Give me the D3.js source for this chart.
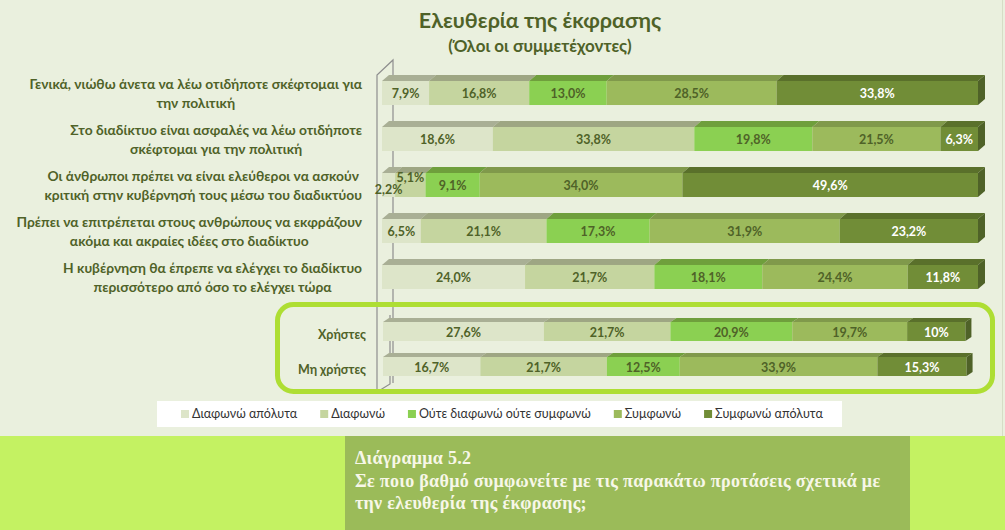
<!DOCTYPE html>
<meta charset="utf-8">
<style>
  body { margin: 0; background: #eaf0de; }
  svg { display: block; }
</style>
<svg width="1005" height="530"></svg>
<script src="https://cdn.jsdelivr.net/npm/d3@7"></script>
<script>

// statements (each one split on two lines like the original)
var statements = [
  ["Γενικά, νιώθω άνετα να λέω οτιδήποτε σκέφτομαι για", "την πολιτική"],
  ["Στο διαδίκτυο είναι ασφαλές να λέω οτιδήποτε", "σκέφτομαι για την πολιτική"],
  ["Οι άνθρωποι πρέπει να είναι ελεύθεροι να ασκούν", "κριτική στην κυβέρνησή τους μέσω του διαδικτύου"],
  ["Πρέπει να επιτρέπεται στους ανθρώπους να εκφράζουν", "ακόμα και ακραίες ιδέες  στο διαδίκτυο"],
  ["Η κυβέρνηση θα έπρεπε να ελέγχει το διαδίκτυο", "περισσότερο από όσο το ελέγχει τώρα"]
];
var levels = ["Διαφωνώ απόλυτα", "Διαφωνώ", "Ούτε διαφωνώ ούτε συμφωνώ", "Συμφωνώ", "Συμφωνώ απόλυτα"];

var disagreeFully = [7.9, 18.6, 2.2, 6.5, 24.0];
var disagree      = [16.8, 33.8, 5.1, 21.1, 21.7];
var neutral       = [13.0, 19.8, 9.1, 17.3, 18.1];
var agree         = [28.5, 21.5, 34.0, 31.9, 24.4];
var agreeFully    = [33.8, 6.3, 49.6, 23.2, 11.8];

var groups = ["Χρήστες", "Μη χρήστες"];
var groupDisagreeFully = [27.6, 16.7];
var groupDisagree      = [21.7, 21.7];
var groupNeutral       = [20.9, 12.5];
var groupAgree         = [19.7, 33.9];
var groupAgreeFully    = [10, 15.3];

var front = ["#dde5c9", "#c5d59f", "#8bd052", "#9cba5c", "#718d37"];
var top_ = ["#a9af95", "#9ea683", "#6f9f3c", "#80994b", "#5a702b"];
var sideColor = "#4f6228";
var textDark = "#4f6228";

var svg = d3.select("svg");
var locale = d3.formatLocale({decimal: ",", thousands: ".", grouping: [3], currency: ["", "€"]});

// background bands
svg.append("rect").attr("x", 0).attr("y", 0).attr("width", 1002).attr("height", 436).attr("fill", "#eaf0de");
svg.append("line").attr("x1", 1002.5).attr("x2", 1002.5).attr("y1", 0).attr("y2", 436).attr("stroke", "#d6ddc6");
svg.append("rect").attr("x", 0).attr("y", 436).attr("width", 1005).attr("height", 94).attr("fill", "#c4f262");
svg.append("rect").attr("x", 345).attr("y", 436).attr("width", 565).attr("height", 94).attr("fill", "#9bbb59");

// titles
svg.append("text").attr("x", 540).attr("y", 28).attr("text-anchor", "middle")
  .style("font", "bold 21.5px Lato").attr("fill", textDark).text("Ελευθερία της έκφρασης");
svg.append("text").attr("x", 540).attr("y", 52).attr("text-anchor", "middle")
  .style("font", "bold 17px Lato").attr("fill", textDark).text("(Όλοι οι συμμετέχοντες)");

// walls
var wall = svg.append("g").attr("stroke", "#8e8e8e").attr("stroke-width", 1.2).attr("fill", "none");
wall.append("path").attr("d", "M377,392 L377,75 L393,60 L393,383");
wall.append("path").attr("d", "M390,315 L390,384 L377,392");

function stack(cols) {
  return cols[0].map(function(_, i) {
    var x0 = 0;
    return cols.map(function(c, k) {
      var s = {level: k, value: c[i], x0: x0, x1: x0 + c[i], row: i};
      x0 += c[i];
      return s;
    });
  });
}

function drawBars(rows, x, y, dx, dy, fmt) {
  var g = svg.append("g");
  var bar = g.selectAll("g.bar").data(rows).join("g").attr("class", "bar");
  bar.each(function(segs, i) {
    var b = d3.select(this), yy = y(i), h = y.bandwidth();
    // top faces
    b.selectAll("path.top").data(segs).join("path").attr("class", "top")
      .attr("d", function(d) {
        var a = x(d.x0), c = x(d.x1);
        return "M" + a + "," + yy + "L" + (a + dx) + "," + (yy - dy) + "L" + (c + dx) + "," + (yy - dy) + "L" + c + "," + yy + "Z";
      })
      .attr("fill", function(d) { return top_[d.level]; });
    // fronts
    b.selectAll("rect.front").data(segs).join("rect").attr("class", "front")
      .attr("x", function(d) { return x(d.x0); })
      .attr("width", function(d) { return x(d.x1) - x(d.x0); })
      .attr("y", yy).attr("height", h)
      .attr("fill", function(d) { return front[d.level]; });
    // right side
    var last = segs[segs.length - 1], e = x(last.x1);
    b.append("path")
      .attr("d", "M" + e + "," + yy + "L" + (e + dx) + "," + (yy - dy) + "L" + (e + dx) + "," + (yy + h - dy) + "L" + e + "," + (yy + h) + "Z")
      .attr("fill", sideColor);
    // value labels
    b.selectAll("text").data(segs).join("text")
      .attr("x", function(d) { return (x(d.x0) + x(d.x1)) / 2; })
      .attr("y", function(d, k) {
        var off = 1;
        if (d.value < 3) off = 5;
        else if (k > 0 && segs[k - 1].value < 3) off = -7;
        return yy + h / 2 + off;
      })
      .attr("dy", "0.35em").attr("text-anchor", "middle")
      .style("font", "bold 12.5px Lato")
      .attr("fill", function(d) { return d.level === 4 ? "#ffffff" : textDark; })
      .text(function(d) { return fmt(d.value) + "%"; });
  });
}

// main chart
var x = d3.scaleLinear().domain([0, 100]).range([382, 978]);
var y = d3.scaleBand().domain(d3.range(statements.length)).range([81, 289]).paddingInner(0.478).paddingOuter(0);
drawBars(stack([disagreeFully, disagree, neutral, agree, agreeFully]), x, y, 7, 6, locale.format(".1f"));

// statement labels: centred lines, block right-aligned
statements.forEach(function(lines, i) {
  var t = svg.append("text").style("font", "bold 13.8px Lato").attr("fill", textDark).attr("text-anchor", "middle");
  var spans = t.selectAll("tspan").data(lines).join("tspan").text(function(d) { return d; });
  var w = d3.max(spans.nodes(), function(n) { return n.getComputedTextLength(); });
  var cx = 362 - w / 2, cy = y(i) + y.bandwidth() / 2;
  spans.attr("x", cx).attr("y", function(d, k) { return cy + (k === 0 ? -9 : 10); }).attr("dy", "0.35em");
});

// users box
svg.append("rect").attr("x", 277.5).attr("y", 304.5).attr("width", 715).attr("height", 87).attr("rx", 16)
  .attr("fill", "none").attr("stroke", "#aede33").attr("stroke-width", 5);

var xg = d3.scaleLinear().domain([0, 100]).range([383, 966]);
var yg = d3.scaleBand().domain(d3.range(groups.length)).range([322, 376]).paddingInner(0.457).paddingOuter(0);
drawBars(stack([groupDisagreeFully, groupDisagree, groupNeutral, groupAgree, groupAgreeFully]), xg, yg, 6, 4, locale.format(".1~f"));

svg.selectAll("text.group").data(groups).join("text").attr("class", "group")
  .attr("x", 366).attr("y", function(d, i) { return yg(i) + yg.bandwidth() / 2 + 3; })
  .attr("dy", "0.35em").attr("text-anchor", "end")
  .style("font", "bold 12.5px Lato").attr("fill", textDark).text(function(d) { return d; });

// legend
svg.append("rect").attr("x", 157).attr("y", 401).attr("width", 685).attr("height", 26).attr("fill", "#ffffff");
var lx = 181;
levels.forEach(function(name, k) {
  svg.append("rect").attr("x", lx).attr("y", 410).attr("width", 8).attr("height", 8).attr("fill", front[k]);
  var t = svg.append("text").attr("x", lx + 11).attr("y", 414).attr("dy", "0.35em")
    .style("font", "12.5px Lato").attr("fill", "#333333").text(name);
  lx += 11 + t.node().getComputedTextLength() + 23;
});

// caption
var caption = ["Διάγραμμα 5.2", "Σε ποιο βαθμό συμφωνείτε με τις παρακάτω προτάσεις σχετικά με", "την ελευθερία της έκφρασης;"];
svg.append("text").style("font", "bold 18px 'Liberation Serif'").style("letter-spacing", "0.3px").attr("fill", "#f7f7e8")
  .selectAll("tspan").data(caption).join("tspan")
  .attr("x", 355).attr("y", function(d, i) { return 464 + i * 22.5; }).text(function(d) { return d; });

</script>
